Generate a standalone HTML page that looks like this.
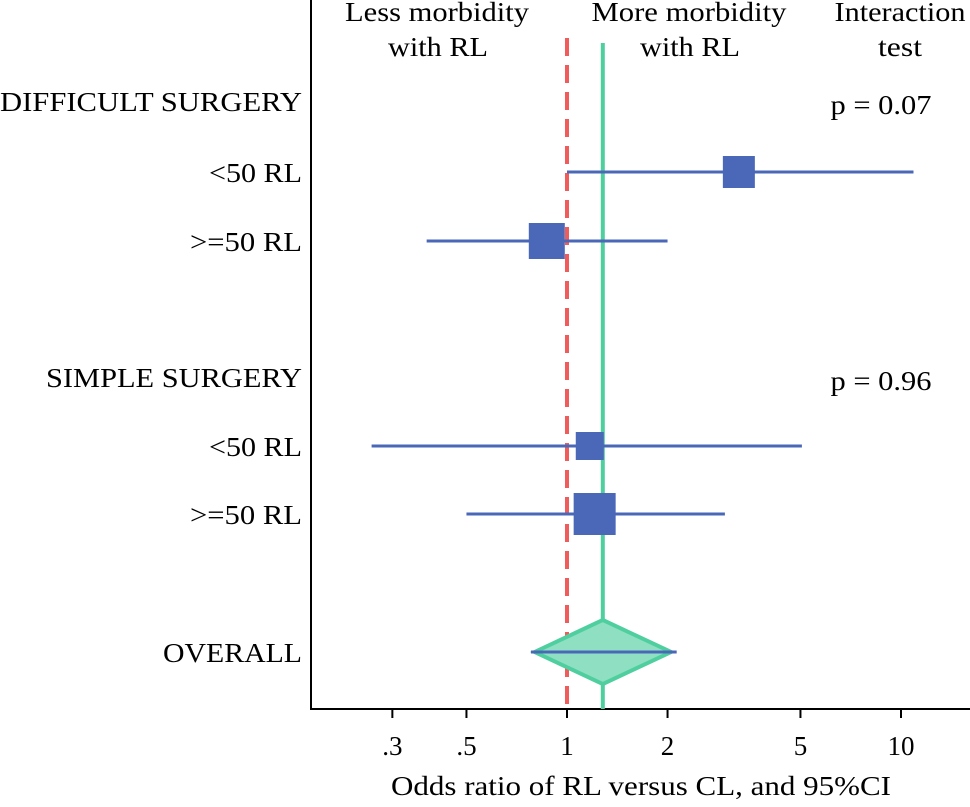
<!DOCTYPE html>
<html><head><meta charset="utf-8"><style>
html,body{margin:0;padding:0;background:#fff;}
svg text{font-family:"Liberation Serif",serif;font-size:27px;fill:#000;}
</style></head><body>
<svg id="chart" width="970" height="802" viewBox="0 0 970 802">
<g id="axes"></g><g id="marks"></g><g id="labels"></g>
</svg>
<script>
const rowLabels = ["<50 RL", ">=50 RL", "<50 RL", ">=50 RL"];
const rowY = [172, 241, 446, 514];
const estimates = [3.27, 0.87, 1.17, 1.21];
const ciLow = [1.0, 0.38, 0.26, 0.50];
const ciHigh = [10.9, 2.0, 5.05, 2.97];
const weights = [32, 36, 28, 42];
const overallEst = 1.28;
const overallLow = 0.78;
const overallHigh = 2.13;
const diamondLow = 0.8;
const diamondHigh = 2.05;
const tickValues = [0.3, 0.5, 1, 2, 5, 10];
const tickLabels = [".3", ".5", "1", "2", "5", "10"];
const groupLabels = ["DIFFICULT SURGERY", "SIMPLE SURGERY"];
const groupY = [101, 377];
const pValues = ["p = 0.07", "p = 0.96"];

const NS = "http://www.w3.org/2000/svg";
function x(v){ return 567 + 334*Math.log10(v); }
function mk(parent, tag, attrs, text){
  const e = document.createElementNS(NS, tag);
  for (const k in attrs) e.setAttribute(k, attrs[k]);
  if (text !== undefined) e.textContent = text;
  document.getElementById(parent).appendChild(e);
  return e;
}
function fit(e, w){ e.setAttribute("textLength", w); e.setAttribute("lengthAdjust","spacingAndGlyphs"); }
const BLUE = "#4a67b8", GREEN = "#4fcf9f", RED = "#f05b5b";
const rowW = [93, 112, 93, 112];
let e;
e = mk("axes","line",{x1:311,y1:0,x2:311,y2:709,stroke:"#000","stroke-width":2});


e = mk("axes","line",{x1:310,y1:709,x2:970,y2:709,stroke:"#000","stroke-width":2});


tickValues.forEach((v,i)=>{
  let t = mk("axes","line",{x1:x(v),y1:709,x2:x(v),y2:718,stroke:"#000","stroke-width":2});
  
  
  let l = mk("axes","text",{x:x(v),y:755,"text-anchor":"middle"},tickLabels[i]);
  
  
});
e = mk("axes","text",{x:641,y:795,"text-anchor":"middle"},"Odds ratio of RL versus CL, and 95%CI");
fit(e,500);



e = mk("marks","line",{x1:x(1),y1:38,x2:x(1),y2:709,stroke:RED,"stroke-width":4,"stroke-dasharray":"18,9"});


e = mk("marks","line",{x1:x(overallEst),y1:43,x2:x(overallEst),y2:709,stroke:GREEN,"stroke-width":4});



rowY.forEach((y,i)=>{
  let c = mk("marks","line",{x1:x(ciLow[i]),y1:y,x2:x(ciHigh[i]),y2:y,stroke:BLUE,"stroke-width":3});
  
  
  const s = weights[i];
  let r = mk("marks","rect",{x:x(estimates[i])-s/2,y:y-s/2,width:s,height:s,fill:BLUE});
  
  
  let l = mk("labels","text",{x:302,y:y+10,"text-anchor":"end"},rowLabels[i]);
  fit(l,rowW[i]);
  
  
});
const oy = 652;
e = mk("marks","polygon",{points:`${x(diamondLow)},${oy} ${x(overallEst)},${oy-32} ${x(diamondHigh)},${oy} ${x(overallEst)},${oy+32}`,fill:"#8fdfc2",stroke:GREEN,"stroke-width":4});


e = mk("marks","line",{x1:x(overallLow),y1:oy,x2:x(overallHigh),y2:oy,stroke:BLUE,"stroke-width":3});


e = mk("labels","text",{x:302,y:oy+10,"text-anchor":"end"},"OVERALL");
fit(e,139);



const groupW = [302, 256];
groupLabels.forEach((g,i)=>{
  let l = mk("labels","text",{x:302,y:groupY[i]+10,"text-anchor":"end"},g);
  fit(l,groupW[i]);
  
  
  let p = mk("labels","text",{x:881,y:groupY[i]+13,"text-anchor":"middle"},pValues[i]);
  fit(p,101);
  
  
});
[["Less morbidity",437,21,184],["with RL",438,56,100],["More morbidity",689,21,195],["with RL",690,56,100],["Interaction",900,21,131],["test",900,56,44]].forEach(d=>{
  let t = mk("labels","text",{x:d[1],y:d[2],"text-anchor":"middle"},d[0]);
  fit(t,d[3]);
  
  
});
</script>
</body></html>
